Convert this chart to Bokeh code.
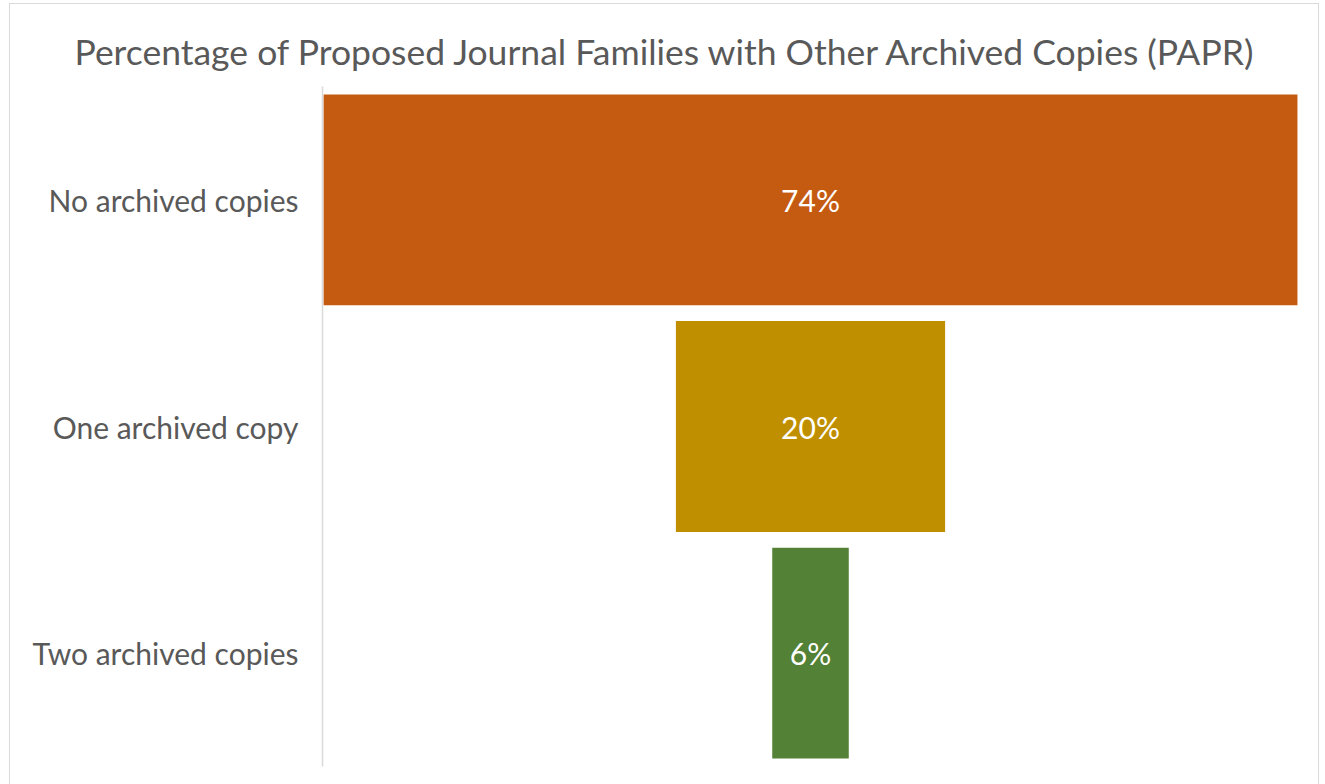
from bokeh.plotting import figure
from bokeh.models import Range1d, ColumnDataSource, Title
from bokeh.core.properties import value
from bokeh.embed import file_html
from bokeh.resources import INLINE

categories = ["No archived copies", "One archived copy", "Two archived copies"]
percentages = [73.8, 20.4, 5.8]
bar_colors = ["#C55A11", "#BF8F00", "#538135"]
title_text = "Percentage of Proposed Journal Families with Other Archived Copies (PAPR)"

FONT = "Lato"
GRAY = "#595959"

src = ColumnDataSource(dict(
    cat=categories,
    left=[-v / 2 for v in percentages],
    right=[v / 2 for v in percentages],
    color=bar_colors,
    lab=["%d%%" % round(v) for v in percentages],
    zero=[0] * len(percentages),
))

p = figure(
    width=1310, height=790,
    y_range=list(reversed(categories)),
    x_range=Range1d(-36.98, 36.98),
    output_backend="svg", toolbar_location=None,
    x_axis_location=None,
    min_border_left=312, min_border_right=22,
    min_border_top=82, min_border_bottom=28,
)
p.styles = {"border": "1px solid #d9d9d9", "margin-left": "9px", "margin-top": "3px"}
p.outline_line_color = None
p.grid.visible = False
p.background_fill_color = "white"
p.border_fill_color = "white"

p.hbar(y="cat", left="left", right="right", height=0.93, color="color",
       line_color=None, source=src)
p.text(x="zero", y="cat", text="lab", text_color="white",
       text_font=value(FONT), text_font_size="30px",
       text_align="center", text_baseline="middle", source=src)

ax = p.yaxis[0]
ax.axis_line_color = "#d9d9d9"
ax.axis_line_width = 1.5
ax.major_tick_line_color = None
ax.minor_tick_line_color = None
ax.major_tick_out = 0
ax.major_tick_in = 0
ax.major_label_standoff = 24
ax.major_label_text_font = FONT
ax.major_label_text_font_size = "30px"
ax.major_label_text_color = GRAY

title = Title(text=title_text, align="left", offset=-248, standoff=28,
              text_font=FONT, text_font_size="35.5px", text_color=GRAY,
              text_font_style="normal")
p.add_layout(title, "above")

open("out.html", "w").write(file_html(p, INLINE))
